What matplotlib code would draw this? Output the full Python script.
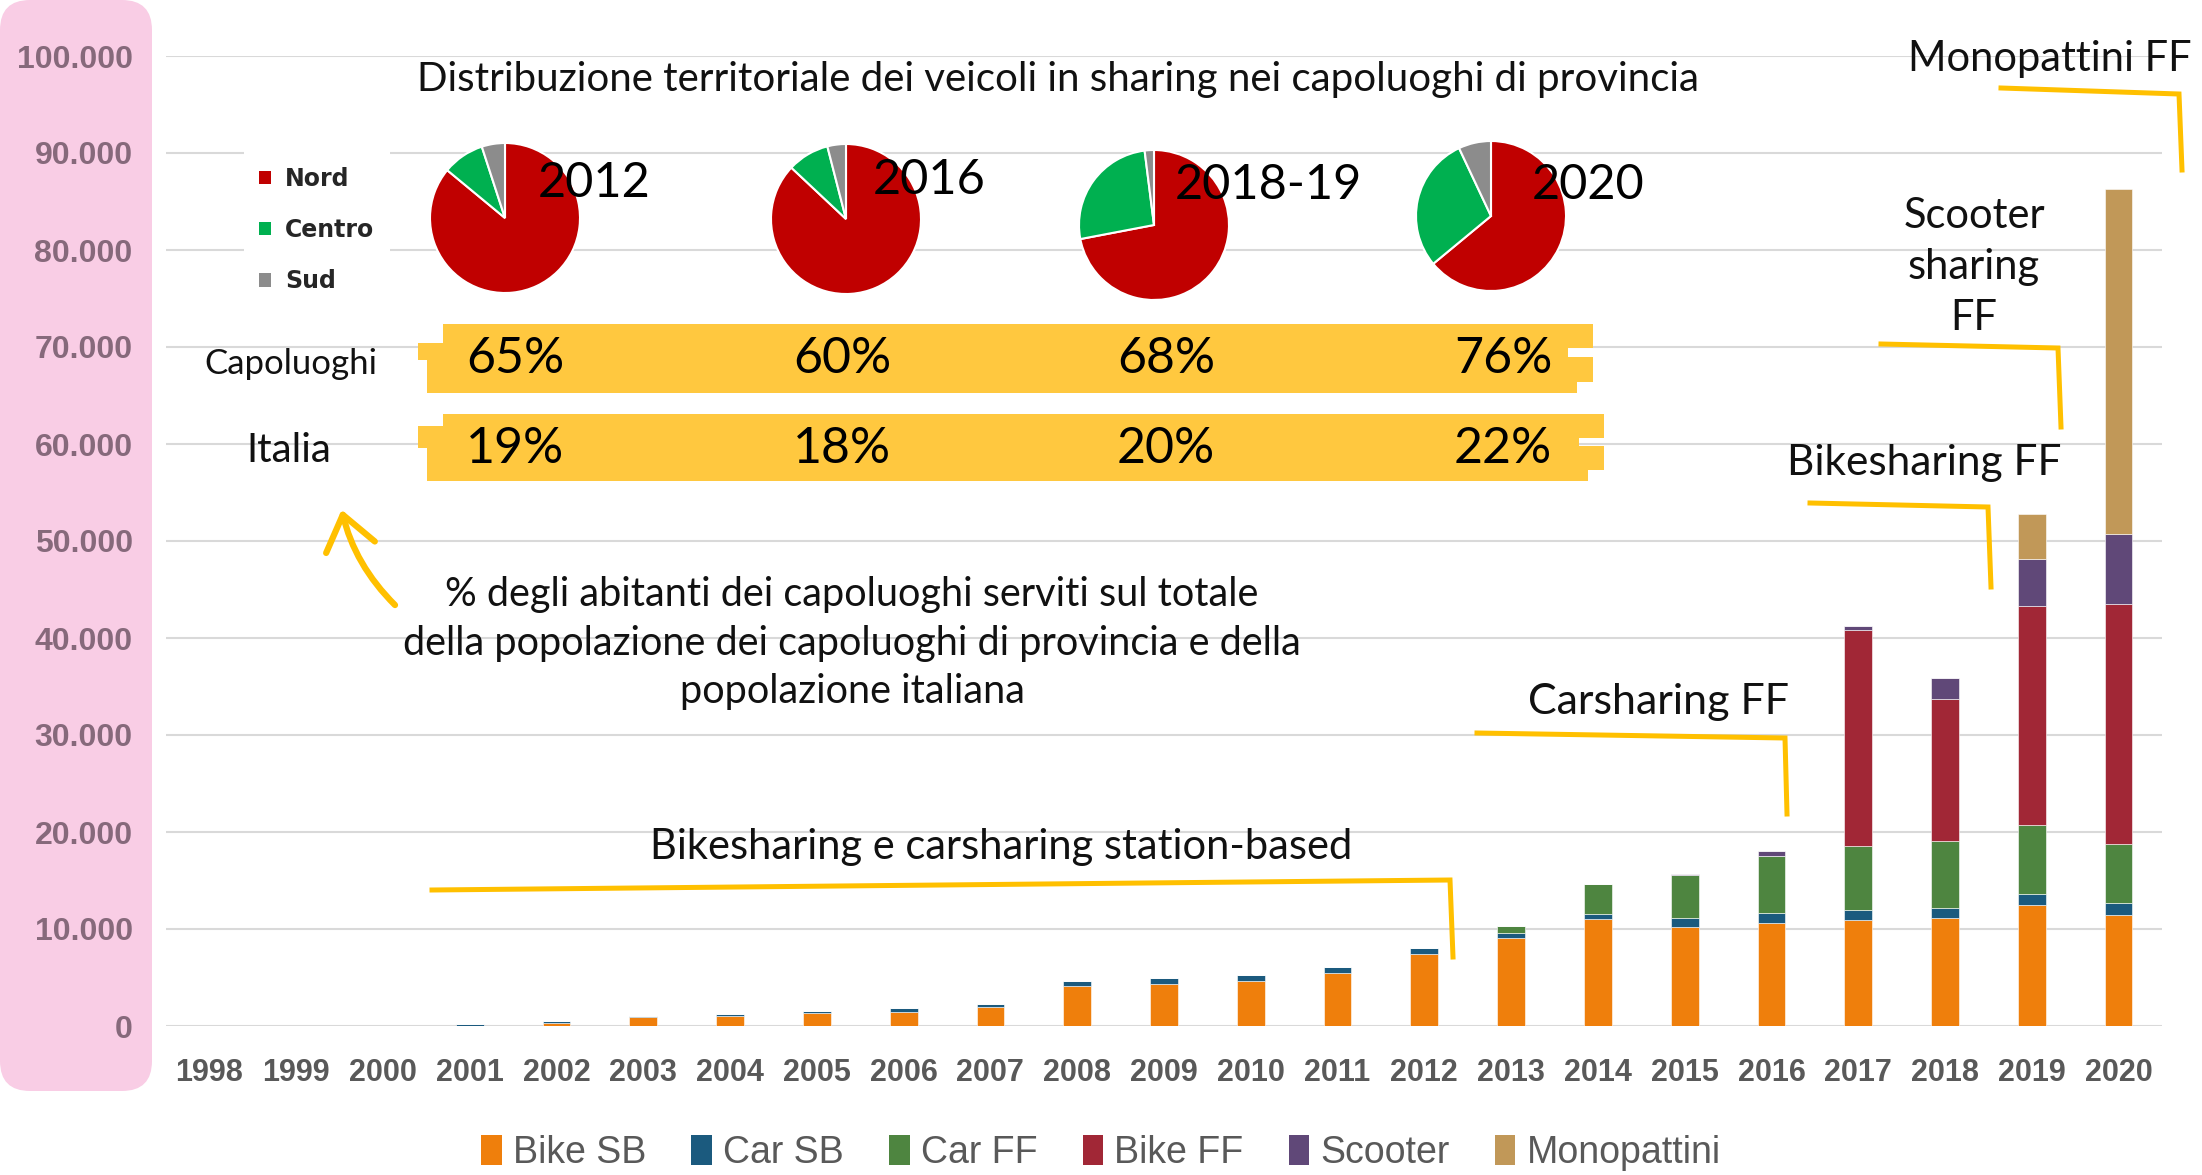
import matplotlib
matplotlib.use("Agg")
import matplotlib.pyplot as plt
from matplotlib.patches import Patch, FancyBboxPatch, Polygon, FancyArrowPatch
from matplotlib.lines import Line2D

# --- data ---
years = list(range(1998, 2021))
bike_sb = [0, 0, 0, 0, 280, 900, 1030, 1310, 1420, 1930, 4140, 4380, 4620,
           5470, 7430, 9030, 10990, 10230, 10600, 10900, 11120, 12490, 11410]
car_sb = [0, 0, 0, 200, 200, 140, 170, 280, 410, 350, 480, 590, 620,
          580, 610, 580, 540, 870, 1020, 1010, 1080, 1160, 1300]
car_ff = [0] * 15 + [720, 3110, 4440, 5900, 6650, 6860, 7080, 6070]
bike_ff = [0] * 19 + [22240, 14660, 22530, 24690]
scooter = [0] * 17 + [110, 540, 430, 2170, 4910, 7290]
monopattini = [0] * 21 + [4620, 35520]

series_names = ["Bike SB", "Car SB", "Car FF", "Bike FF", "Scooter", "Monopattini"]
series_colors = ["#EF7F0C", "#1B5A7E", "#4E8540", "#A12736", "#604878", "#C19858"]

pie_years = ["2012", "2016", "2018-19", "2020"]
nord = [86, 87, 72, 64]
centro = [9, 9, 26, 29]
sud = [5, 4, 2, 7]
pie_colors = ["#C00000", "#00B050", "#8C8C8C"]

pct_capoluoghi = [65, 60, 68, 76]
pct_italia = [19, 18, 20, 22]

W, H = 2202, 1175
HAND = ["Lato", "DejaVu Sans"]
TICKF = ["Liberation Sans", "DejaVu Sans"]
YELLOW = "#FFC000"
INK = "#111111"


def fx(x):
    return x / W


def fy(y):
    return 1 - y / H


fig = plt.figure(figsize=(W / 100, H / 100), dpi=100)
fig.patch.set_facecolor("white")

# pink band behind y labels
fig.patches.append(FancyBboxPatch((0, H - 1091), 152, 1091, boxstyle="round,pad=0,rounding_size=30",
                                  transform=None, facecolor="#F9CDE5", edgecolor="none", zorder=-5))

# --- main stacked bar chart ---
ax = fig.add_axes([fx(166), fy(1026), fx(2162 - 166), (1026 - 56) / H])
ax.patch.set_alpha(0)
x = list(range(len(years)))
bottom = [0] * len(years)
for vals, name, col in zip([bike_sb, car_sb, car_ff, bike_ff, scooter, monopattini],
                           series_names, series_colors):
    ax.bar(x, vals, bottom=bottom, width=0.32, color=col, edgecolor="white", linewidth=0.4, label=name)
    bottom = [b + v for b, v in zip(bottom, vals)]

ax.set_xlim(-0.5, len(years) - 0.5)
ax.set_ylim(0, 100000)
ax.set_yticks(range(0, 100001, 10000))
ax.set_yticklabels([f"{v:,}".replace(",", ".") for v in range(0, 100001, 10000)],
                   family=TICKF, fontsize=23, fontweight="bold", color="#86697B")
ax.set_xticks(x)
ax.set_xticklabels([str(y) for y in years], family=TICKF, fontsize=22, fontweight="bold", color="#595959")
ax.tick_params(axis="y", length=0, pad=24)
ax.tick_params(axis="x", length=0, pad=23)
for s in ax.spines.values():
    s.set_visible(False)
ax.yaxis.grid(True, color="#D9D9D9", linewidth=1.5)
ax.set_axisbelow(True)

handles = [Patch(facecolor=c, edgecolor="none") for c in series_colors]
fig.legend(handles, series_names, loc="center", bbox_to_anchor=(fx(1101), fy(1153)), ncol=6,
           frameon=False, prop={"family": TICKF, "size": 27},
           labelcolor="#595959", handlelength=0.55, handleheight=0.85, handletextpad=0.3,
           columnspacing=1.2)

# --- pie legend box ---
lax = fig.add_axes([fx(244), fy(330), fx(390 - 244), (330 - 130) / H])
lax.set_xticks([]); lax.set_yticks([])
for s in lax.spines.values():
    s.set_visible(False)
lax.legend([Patch(facecolor=c) for c in pie_colors], ["Nord", "Centro", "Sud"], loc="center",
           frameon=False, prop={"family": "DejaVu Sans", "size": 17, "weight": "bold"},
           labelcolor="#262626", handlelength=0.5, handleheight=0.5, handletextpad=0.6,
           labelspacing=1.15)

# --- pies ---
pie_centers = [(505, 218), (846, 219), (1154, 225), (1491, 216)]
label_pos = [(594, 183), (929, 180), (1268, 185), (1588, 185)]
for i, (cx, cy) in enumerate(pie_centers):
    pax = fig.add_axes([fx(cx - 111), fy(cy + 111), fx(222), 222 / H])
    pax.pie([nord[i], centro[i], sud[i]], colors=pie_colors, startangle=90, counterclock=False,
            radius=1, wedgeprops={"edgecolor": "white", "linewidth": 1.5})
    pax.set_xlim(-1.48, 1.48); pax.set_ylim(-1.48, 1.48)
    pax.set_aspect("equal")
    pax.axis("on")
    pax.set_xticks([]); pax.set_yticks([])
    for s in pax.spines.values():
        s.set_visible(False)
    pax.patch.set_facecolor("white")
    lx, ly = label_pos[i]
    fig.text(fx(lx), fy(ly), pie_years[i], ha="center", va="center", family=HAND, fontsize=35,
             color="black", zorder=5)

# --- title ---
fig.text(fx(1058), fy(80), "Distribuzione territoriale dei veicoli in sharing nei capoluoghi di provincia",
         ha="center", va="center", family=HAND, fontsize=29, color=INK)

# --- yellow bands ---
band1 = [(443, 324), (1593, 324), (1593, 348), (1568, 348), (1568, 357), (1593, 357), (1593, 382),
         (1577, 382), (1577, 393), (427, 393), (427, 360), (418, 360), (418, 343), (443, 343)]
band2 = [(443, 414), (1604, 414), (1604, 438), (1579, 438), (1579, 446), (1604, 446), (1604, 470),
         (1588, 470), (1588, 481), (427, 481), (427, 448), (418, 448), (418, 426), (443, 426)]
for band in (band1, band2):
    fig.patches.append(Polygon([(fx(a), fy(b)) for a, b in band], closed=True, transform=fig.transFigure,
                               facecolor="#FFC83F", edgecolor="none", zorder=2))

fig.text(fx(291), fy(364), "Capoluoghi", ha="center", va="center", family=HAND, fontsize=25, color=INK)
fig.text(fx(289), fy(451), "Italia", ha="center", va="center", family=HAND, fontsize=29, color=INK)
pct_x = [515, 842, 1166, 1503]
for px_, v in zip(pct_x, pct_capoluoghi):
    fig.text(fx(px_), fy(359), f"{v}%", ha="center", va="center", family=HAND, fontsize=36, zorder=5)
for px_, v in zip(pct_x, pct_italia):
    fig.text(fx(px_), fy(449), f"{v}%", ha="center", va="center", family=HAND, fontsize=36, zorder=5)

# --- curved arrow + note ---
arrow = FancyArrowPatch((fx(397), fy(607)), (fx(341), fy(507)), transform=fig.transFigure,
                        connectionstyle="arc3,rad=-0.15", arrowstyle="->,head_length=0.6,head_width=0.45",
                        mutation_scale=40, color=YELLOW, linewidth=4.5, zorder=4)
fig.patches.append(arrow)
fig.text(fx(852), fy(643), "% degli abitanti dei capoluoghi serviti sul totale\n"
         "della popolazione dei capoluoghi di provincia e della\npopolazione italiana",
         ha="center", va="center", family=HAND, fontsize=28.5, linespacing=1.38, color=INK)

# --- bracket annotations ---
brackets = [
    ("Bikesharing e carsharing station-based", (1001, 847), 30, [(432, 890), (1450, 880), (1453, 957)]),
    ("Carsharing FF", (1658, 702), 31, [(1477, 733), (1785, 738), (1787, 814)]),
    ("Bikesharing FF", (1924, 463), 30.5, [(1810, 503), (1988, 507), (1991, 587)]),
    ("Scooter\nsharing\nFF", (1974, 267), 30, [(1881, 344), (2058, 348), (2061, 427)]),
    ("Monopattini FF", (2050, 59), 30, [(2001, 88), (2179, 94), (2182, 170)]),
]
for txt, (tx, ty), fs, pts in brackets:
    fig.add_artist(Line2D([fx(p[0]) for p in pts], [fy(p[1]) for p in pts], transform=fig.transFigure,
                          color=YELLOW, linewidth=3.6, solid_joinstyle="miter", zorder=4))
    fig.text(fx(tx), fy(ty), txt, ha="center", va="center", family=HAND,
             fontsize=fs, linespacing=1.42, zorder=5, color=INK)

fig.savefig("out.png", dpi=100)
